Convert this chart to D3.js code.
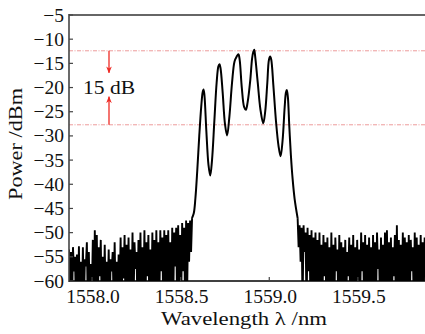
<!DOCTYPE html>
<html><head><meta charset="utf-8">
<script src="https://cdn.jsdelivr.net/npm/d3@7"></script>
<style>
html,body{margin:0;padding:0;background:#fff;}
svg{display:block;}
</style></head>
<body>
<svg id="chart" width="425" height="334"></svg>
<script>
// ---- data ----
const xTicks = [1558.0, 1558.5, 1559.0, 1559.5];
const xTickLabels = ["1558.0", "1558.5", "1559.0", "1559.5"];
const yTicks = [-5, -10, -15, -20, -25, -30, -35, -40, -45, -50, -55, -60];
const yTickLabels = ["\u22125", "\u221210", "\u221215", "\u221220", "\u221225", "\u221230", "\u221235", "\u221240", "\u221245", "\u221250", "\u221255", "\u221260"];
const refLevels = [-12.4, -27.7];
const refLabel = "15 dB";
const xTitle = "Wavelength \u03bb /nm";
const yTitle = "Power /dBm";

// OSA sampling of the noise floor (start wavelength, sample step in nm)
const noiseLeftStart = 1557.870;
const noiseRightStart = 1559.160;
const noiseStep = 0.0056;
const noiseLeft = [
 -53.5,-64,-54,-66,-53,-58,-55,-65,-54.5,-63,
 -52.8,-66,-56,-64,-53,-65,-55.5,-57,-52,-66,
 -54,-65,-56.5,-63,-51.5,-66,-49.5,-64,-50.5,-65,
 -53,-59,-51.5,-66,-55,-64,-52.5,-65,-56,-63,
 -53.5,-66,-55.5,-58,-54,-65,-52,-64,-56,-66,
 -54.5,-63,-51,-65,-53,-59.5,-50.5,-66,-52.5,-64,
 -51,-65,-53.5,-63,-50,-66,-52,-57.5,-54,-65,
 -51.5,-64,-50,-66,-53,-63,-49.5,-65,-52,-59,
 -50.5,-66,-53.5,-64,-50,-65,-51.5,-66,-49.5,-63,
 -52,-65,-49.5,-58,-51,-66,-49.5,-64,-50.5,-65,
 -49.5,-63,-52,-66,-49,-65,-50,-57,-49,-66,
 -48.5,-64,-50.5,-65,-48,-58,-49,-66,-47.5,-63,
 -48,-56,-47.5,-54,-47
];
const noiseRight = [
 -47,-53,-48.5,-56,-49,-65,-48.5,-54,-50,-66,
 -49,-58,-50.5,-66,-49.5,-64,-51,-65,-50,-63,
 -51.5,-66,-50,-64,-52.5,-65,-50.5,-59,-52,-66,
 -51,-64,-53,-65,-50,-63,-52.5,-66,-51,-58,
 -53.5,-65,-50.5,-64,-52,-66,-53,-63,-51.5,-65,
 -54,-59,-51,-66,-52.5,-64,-50.5,-65,-53,-66,
 -51.5,-63,-53.5,-65,-50,-58,-52,-66,-50.5,-64,
 -52.5,-65,-51,-63,-53,-66,-50.5,-64,-52,-65,
 -50,-57.5,-53.5,-66,-51,-64,-52.5,-65,-50,-63,
 -49.5,-66,-52,-64,-51,-65,-53,-59,-50.5,-66,
 -48.5,-64,-51.5,-65,-52.5,-63,-50,-66,-51,-64,
 -52,-65,-50.5,-66,-51.5,-58,-53,-65,-50,-64,
 -51,-66,-52.5,-63,-50.5,-65,-52,-64,-51
];
// multi-peak signal (wavelength nm, power dBm)
const sigWl = [1558.564,1558.574,1558.583,1558.594,1558.605,1558.616,1558.624,1558.629,1558.634,1558.645,1558.657,1558.667,1558.677,1558.690,1558.703,1558.713,1558.719,1558.725,1558.737,1558.750,1558.762,1558.775,1558.790,1558.804,1558.816,1558.826,1558.833,1558.845,1558.858,1558.868,1558.878,1558.893,1558.903,1558.910,1558.915,1558.920,1558.935,1558.950,1558.966,1558.977,1558.989,1558.998,1559.005,1559.011,1559.023,1559.038,1559.052,1559.064,1559.075,1559.087,1559.094,1559.099,1559.105,1559.113,1559.122,1559.132,1559.143,1559.160];
const sigDb = [-47,-46,-43,-37,-30,-24,-21,-20.4,-21.5,-29,-36,-38.2,-35,-27,-19,-15.6,-15.2,-16,-21,-27.5,-29.9,-26,-19,-14.6,-13.6,-13.1,-14.3,-20,-24,-24.6,-23,-18.4,-14,-12.6,-12.2,-13.4,-19,-24.5,-27.4,-25,-19,-14.3,-13.6,-14.2,-19.5,-27,-32,-34.2,-31,-24,-21,-20.5,-22,-28,-34,-39,-43,-47];

// ---- layout ----
const FONT = "'Liberation Serif', 'DejaVu Serif', 'Times New Roman', serif";
const svg = d3.select("#chart");
const L = 69, T = 15, R = 427, B = 281;
const x = d3.scaleLinear().domain([1557.870, 1559.890]).range([L, R]);
const y = d3.scaleLinear().domain([-60, -5]).range([B, T]);

const defs = svg.append("defs");
defs.append("clipPath").attr("id","clip")
  .append("rect").attr("x",L).attr("y",T).attr("width",R-L).attr("height",B-T);

// reference dash-dot lines
svg.append("g").selectAll("line").data(refLevels).join("line")
  .attr("x1",L).attr("x2",425).attr("y1",d=>y(d)).attr("y2",d=>y(d))
  .attr("stroke","#e88080").attr("stroke-width",0.8)
  .attr("stroke-dasharray","4,1.5,1,1.5");

// noise
const lineLin = d3.line().x(d=>x(d[0])).y(d=>y(d[1]));
const leftPts = noiseLeft.map((v,i)=>[noiseLeftStart+i*noiseStep, v]);
const rightPts = noiseRight.map((v,i)=>[noiseRightStart+i*noiseStep, v]);
const g = svg.append("g").attr("clip-path","url(#clip)");
[leftPts, rightPts].forEach(pts=>{
  g.append("path").attr("d", lineLin(pts)).attr("fill","none")
   .attr("stroke","#000").attr("stroke-width",1.9).attr("stroke-linejoin","bevel");
});
// signal
const lineSmooth = d3.line().x(d=>x(d[0])).y(d=>y(d[1])).curve(d3.curveCatmullRom.alpha(0.5));
g.append("path").attr("d", lineSmooth(sigWl.map((w,i)=>[w, sigDb[i]])))
  .attr("fill","none").attr("stroke","#000").attr("stroke-width",2);

// axes
const ax = svg.append("g");
ax.append("line").attr("x1",L).attr("x2",425).attr("y1",T).attr("y2",T).attr("stroke","#666").attr("stroke-width",2);
ax.append("line").attr("x1",L).attr("x2",L).attr("y1",T-1).attr("y2",B+1).attr("stroke","#444").attr("stroke-width",1.6);
ax.append("line").attr("x1",L).attr("x2",425).attr("y1",B).attr("y2",B).attr("stroke","#000").attr("stroke-width",1.6);

// y ticks & labels
ax.selectAll(".yt").data(yTicks).join("line")
  .attr("x1",L).attr("x2",L+4).attr("y1",d=>y(d)).attr("y2",d=>y(d))
  .attr("stroke","#444").attr("stroke-width",1.2);
ax.selectAll(".yl").data(yTicks).join("text")
  .attr("x",64).attr("y",d=>y(d)+6.5).attr("text-anchor","end")
  .attr("font-family",FONT).attr("fill","#111")
  .attr("font-size",19.5).text((d,i)=>yTickLabels[i]);
// x ticks & labels
ax.selectAll(".xt").data(xTicks).join("line")
  .attr("x1",d=>x(d)).attr("x2",d=>x(d)).attr("y1",B).attr("y2",B-4)
  .attr("stroke","#444").attr("stroke-width",1.2);
ax.selectAll(".xl").data(xTicks).join("text")
  .attr("x",d=>x(d)+1).attr("y",303).attr("text-anchor","middle")
  .attr("font-family",FONT).attr("fill","#111")
  .attr("font-size",19.5).text((d,i)=>xTickLabels[i]);

// titles
svg.append("text").attr("x",244).attr("y",325).attr("text-anchor","middle")
  .attr("font-family",FONT).attr("fill","#111")
  .attr("font-size",19.5).attr("textLength",166).attr("lengthAdjust","spacingAndGlyphs").text(xTitle);
svg.append("text").attr("transform","translate(22,144) rotate(-90)").attr("text-anchor","middle")
  .attr("font-family",FONT).attr("fill","#111")
  .attr("font-size",19.5).attr("textLength",112).attr("lengthAdjust","spacingAndGlyphs").text(yTitle);

// 15 dB annotation
const ax0 = 109;
const arrowCol = "#ee2a24";
defs.append("marker").attr("id","ah").attr("viewBox","0 0 10 10").attr("refX",9).attr("refY",5)
  .attr("markerWidth",7).attr("markerHeight",7).attr("markerUnits","userSpaceOnUse").attr("orient","auto")
  .append("path").attr("d","M0,1 L10,5 L0,9 L3,5 Z").attr("fill",arrowCol);
svg.append("line").attr("x1",ax0).attr("x2",ax0).attr("y1",y(refLevels[0])).attr("y2",y(refLevels[0])+22)
  .attr("stroke",arrowCol).attr("stroke-width",1.3).attr("marker-end","url(#ah)");
svg.append("line").attr("x1",ax0).attr("x2",ax0).attr("y1",y(refLevels[1])).attr("y2",y(refLevels[1])-28)
  .attr("stroke",arrowCol).attr("stroke-width",1.3).attr("marker-end","url(#ah)");
svg.append("text").attr("x",ax0).attr("y",94).attr("text-anchor","middle")
  .attr("font-family",FONT).attr("fill","#111")
  .attr("font-size",19.5).attr("textLength",52).attr("lengthAdjust","spacingAndGlyphs").text(refLabel);
</script>
</body></html>
